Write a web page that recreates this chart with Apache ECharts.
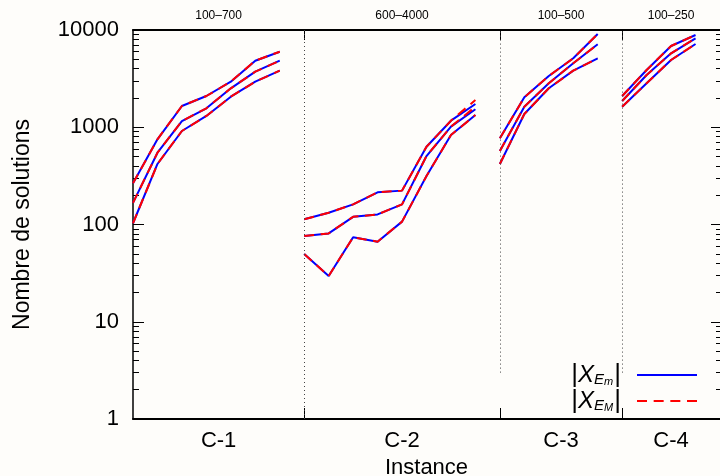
<!DOCTYPE html>
<html>
<head>
<meta charset="utf-8">
<script src="https://cdn.jsdelivr.net/npm/echarts@6/dist/echarts.min.js"></script>
<style>html,body{margin:0;padding:0;background:#fefdfa;}#chart{width:720px;height:476px;}</style>
</head>
<body>
<div id="chart"></div>
<script>
// ---- data ----
const groups = ['C-1', 'C-2', 'C-3', 'C-4'];
const ranges = ['100–700', '600–4000', '100–500', '100–250'];
const groupStart = [0, 7, 15, 20];
const xMax = 24;
const separatorLow = [1, 3, 3]; // lower end of the dotted separators at 7, 15, 20
const yTicks = [1, 10, 100, 1000, 10000];

// |X_Em| (blue) : upper, middle, lower line of each group
const c1Em = [[265, 752, 1655, 2096, 2941, 4833, 5983],
              [167, 547, 1159, 1566, 2515, 3726, 4833],
              [103, 419, 915, 1306, 2062, 2941, 3817]];
const c2Em = [[113, 132, 161, 214, 223, 631, 1168, 1734],
              [76, 81, 120, 127, 161, 506, 1014, 1530],
              [49.7, 29.5, 73.9, 66.6, 107, 315, 832, 1336]];
const c3Em = [[770, 2032, 3365, 5117, 9100],
              [570, 1627, 2832, 4545, 7129],
              [419, 1369, 2515, 3817, 5117]];
const c4Em = [[2096, 3880, 6850, 8885],
              [1862, 3445, 5757, 8220],
              [1627, 2832, 4918, 7178]];
// |X_EM| (red dashed)
const c1EM = [[265, 752, 1655, 2096, 2941, 4833, 5983],
              [167, 547, 1159, 1566, 2515, 3726, 4833],
              [103, 419, 915, 1306, 2062, 2941, 3817]];
const c2EM = [[113, 132, 161, 214, 223, 631, 1168, 1906],
              [76, 81, 120, 127, 161, 506, 1014, 1627],
              [49.7, 29.5, 73.9, 66.6, 107, 315, 832, 1336]];
const c3EM = [[770, 2032, 3365, 5117, 9100],
              [570, 1627, 2832, 4545, 7129],
              [419, 1369, 2515, 3817, 5117]];
const c4EM = [[2096, 3880, 6850, 8885],
              [1862, 3445, 5757, 8220],
              [1627, 2832, 4918, 7178]];

// ---- build ----
const FONT = '"Liberation Sans", Arial, Helvetica, sans-serif';
const emGroups = [c1Em, c2Em, c3Em, c4Em];
const EMGroups = [c1EM, c2EM, c3EM, c4EM];
const groupEnd = groupStart.map((s, i) => i + 1 < groupStart.length ? groupStart[i + 1] : xMax);
const centers = groupStart.map((s, i) => (s + groupEnd[i]) / 2);
const separators = groupStart.slice(1);
const minorVals = [];
for (let d = 0; d < 4; d++) for (let k = 2; k <= 9; k++) minorVals.push(Math.log10(k) + d);

const series = [];
function addSet(sets, name, color, type) {
  sets.forEach((lines, g) => {
    lines.forEach(vals => {
      series.push({
        type: 'line', name: name, xAxisIndex: 0, yAxisIndex: 0,
        data: vals.map((v, i) => [groupStart[g] + i, v]),
        symbol: 'none', showSymbol: false, silent: true,
        lineStyle: { color: color, width: 2, type: type },
        itemStyle: { color: color },
        z: name === 'Em' ? 3 : 4
      });
    });
  });
}
addSet(emGroups, 'Em', '#0000ff', 'solid');
addSet(EMGroups, 'EM', '#ff0000', [10, 6.5]);
series[0].markLine = {
  silent: true, symbol: 'none', label: { show: false }, animation: false,
  lineStyle: { color: '#444', width: 1, type: [1, 3] },
  data: separators.map((s, i) => [{ coord: [s, separatorLow[i]] }, { coord: [s, yTicks[yTicks.length - 1]] }])
};

const chart = echarts.init(document.getElementById('chart'));
chart.setOption({
  backgroundColor: '#fefdfa',
  animation: false,
  textStyle: { fontFamily: FONT },
  grid: { left: 133, right: 0, top: 30, bottom: 57, containLabel: false, outerBoundsMode: 'none' },
  xAxis: [
    { type: 'value', position: 'bottom', min: 0, max: xMax,
      axisLine: { show: true, onZero: false, lineStyle: { color: '#000', width: 2 } },
      axisTick: { show: true, inside: true, length: 11, customValues: separators, lineStyle: { color: '#000', width: 1 } },
      axisLabel: { show: true, customValues: centers, margin: 11, fontSize: 22, color: '#000', fontFamily: FONT,
        formatter: v => groups[centers.indexOf(v)] || '' },
      splitLine: { show: false },
      name: 'Instance', nameLocation: 'middle', nameGap: 37,
      nameTextStyle: { fontSize: 22, color: '#000', fontFamily: FONT } },
    { type: 'value', position: 'top', min: 0, max: xMax,
      axisLine: { show: true, onZero: false, lineStyle: { color: '#000', width: 2 } },
      axisTick: { show: true, inside: true, length: 10, customValues: separators, lineStyle: { color: '#000', width: 1 } },
      axisLabel: { show: true, customValues: centers, margin: 8, fontSize: 12, color: '#000', fontFamily: FONT,
        formatter: v => ranges[centers.indexOf(v)] || '' },
      splitLine: { show: false } }
  ],
  yAxis: [
    { type: 'log', logBase: 10, min: 1, max: 10000, position: 'left',
      axisLine: { show: true, onZero: false, lineStyle: { color: '#000', width: 1.5 } },
      axisTick: { show: true, inside: true, length: 11, lineStyle: { color: '#000', width: 1 } },
      axisLabel: { show: true, margin: 14, fontSize: 22, color: '#000', fontFamily: FONT,
        formatter: v => String(Math.round(v)) },
      splitLine: { show: false }, minorTick: { show: false },
      name: 'Nombre de solutions', nameLocation: 'middle', nameGap: 99,
      nameTextStyle: { fontSize: 23, color: '#000', fontFamily: FONT } },
    { type: 'log', logBase: 10, min: 1, max: 10000, position: 'right',
      axisLine: { show: false, onZero: false },
      axisTick: { show: true, inside: true, length: 9, lineStyle: { color: '#000', width: 1 } },
      axisLabel: { show: false }, splitLine: { show: false } },
    { type: 'value', min: 0, max: 4, position: 'left',
      axisLine: { show: false, onZero: false },
      axisTick: { show: true, inside: true, length: 6, customValues: minorVals, lineStyle: { color: '#000', width: 1 } },
      axisLabel: { show: false }, splitLine: { show: false } },
    { type: 'value', min: 0, max: 4, position: 'right',
      axisLine: { show: false, onZero: false },
      axisTick: { show: true, inside: true, length: 4, customValues: minorVals, lineStyle: { color: '#000', width: 1 } },
      axisLabel: { show: false }, splitLine: { show: false } }
  ],
  legend: {
    data: [
      { name: 'Em', icon: 'path://M0,0h60v2h-60z' },
      { name: 'EM', icon: 'path://M0,0h10v2h-10zM16.67,0h10v2h-10zM33.33,0h10v2h-10zM50,0h10v2h-10z' }
    ],
    orient: 'vertical', right: 23, top: 362, padding: 0,
    itemWidth: 60, itemHeight: 2, itemGap: 0, align: 'right', selectedMode: false,
    formatter: n => n === 'Em' ? '{bar||}{x|X}{e|E}{m|m}{barR||}' : '{bar||}{x|X}{e|E}{m|M}{barR||}',
    textStyle: {
      fontFamily: FONT, color: '#000',
      rich: {
        bar: { fontSize: 26, lineHeight: 25, verticalAlign: 'middle', fontFamily: FONT, color: '#000' },
        barR: { fontSize: 26, lineHeight: 25, verticalAlign: 'middle', fontFamily: FONT, color: '#000', padding: [0, 11, 0, 1] },
        x: { fontSize: 24, lineHeight: 25, fontStyle: 'italic', verticalAlign: 'middle', fontFamily: FONT, color: '#000' },
        e: { fontSize: 15, lineHeight: 14, fontStyle: 'italic', verticalAlign: 'bottom', fontFamily: FONT, color: '#000' },
        m: { fontSize: 11, lineHeight: 9, fontStyle: 'italic', verticalAlign: 'bottom', fontFamily: FONT, color: '#000' }
      }
    }
  },
  series: series
});
</script>
</body>
</html>
